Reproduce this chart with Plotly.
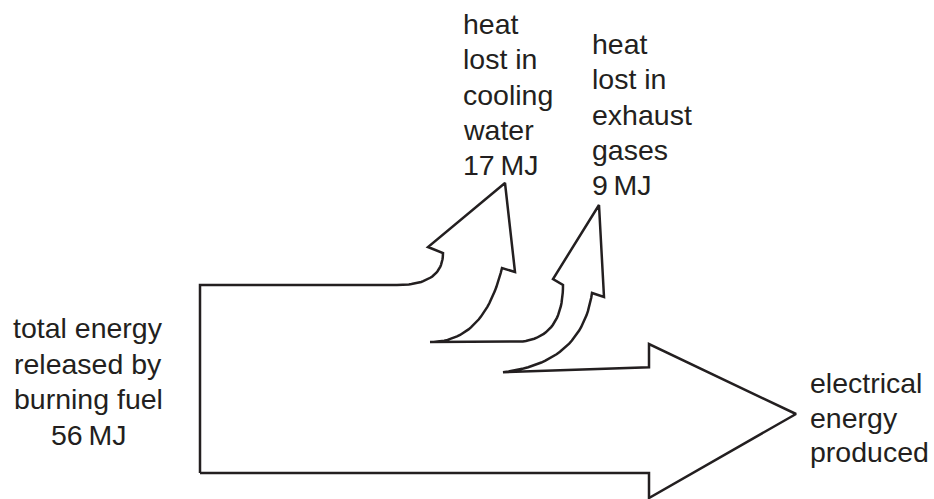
import numpy as np
import plotly.graph_objects as go

# ---- data ----
categories = ["total energy released by burning fuel",
              "heat lost in cooling water",
              "heat lost in exhaust gases",
              "electrical energy produced"]
values_mj = [56, 17, 9, 30]
label_lines = [
    ["total energy", "released by", "burning fuel", "56\u2009MJ"],
    ["heat", "lost in", "cooling", "water", "17\u2009MJ"],
    ["heat", "lost in", "exhaust", "gases", "9\u2009MJ"],
    ["electrical", "energy", "produced"],
]

W, H = 934, 499
INK = "#231f20"

# scale: drawing units per MJ
k = 188 / values_mj[0]
x_left, y_top = 200, 285
y_bot = y_top + k * values_mj[0]
y_cool = y_top + k * values_mj[1]
y_exh = y_cool + k * values_mj[2]


def quad(p0, c, p1, n=30):
    t = np.linspace(0, 1, n)[:, None]
    p0, c, p1 = map(np.array, (p0, c, p1))
    pts = (1 - t) ** 2 * p0 + 2 * t * (1 - t) * c + t ** 2 * p1
    return [tuple(p) for p in pts]


pts = [(x_left, y_bot), (x_left, y_top)]
# cooling-water arrow
pts += quad((397, y_top), (443, y_top), (443, 253))
pts += [(428, 247), (505, 183), (515, 272), (502, 268)]
pts += quad((502, 268), (484, y_cool), (430, y_cool))
# exhaust-gas arrow
pts += quad((513, y_cool), (563, y_cool), (563, 285))
pts += [(553, 279), (599, 205), (604, 297), (592, 293)]
pts += quad((592, 293), (582, 363), (503, y_exh))
# electrical arrow
pts += [(649, y_exh - 5), (649, 344), (796, 414), (649, 498),
        (649, y_bot), (x_left, y_bot)]

xs = [p[0] for p in pts]
ys = [p[1] for p in pts]

fig = go.Figure()
fig.add_trace(go.Scatter(x=xs, y=ys, mode="lines",
                         line=dict(color=INK, width=2.5),
                         hoverinfo="skip", showlegend=False))

FONT = dict(family="Liberation Sans, Arial, sans-serif", size=28.5, color=INK)

# label placements: (x, anchor, first baseline, spacing)
placements = [
    (88, "center", 338, 35.7),
    (461, "left", 34, 35.3),
    (590, "left", 54, 35.3),
    (808, "left", 393, 34.5),
]
for lines, (x, xa, b0, sp) in zip(label_lines, placements):
    for i, line in enumerate(lines):
        fig.add_annotation(x=x, y=b0 + i * sp - 10, text=line, showarrow=False,
                           xanchor=xa, yanchor="middle", font=FONT,
                           xref="x", yref="y")

fig.update_xaxes(range=[0, W], visible=False)
fig.update_yaxes(range=[H, 0], visible=False)
fig.update_layout(width=W, height=H, margin=dict(l=0, r=0, t=0, b=0),
                  plot_bgcolor="white", paper_bgcolor="white",
                  hovermode=False, dragmode=False)

fig.write_html("out.html", config={"displayModeBar": False, "staticPlot": True})

# remove the browser's default page margin so the figure fills the window
with open("out.html", encoding="utf-8") as f:
    html = f.read()
html = html.replace("<head>", "<head><style>html,body{margin:0;padding:0;overflow:hidden;}</style>", 1)
with open("out.html", "w", encoding="utf-8") as f:
    f.write(html)
